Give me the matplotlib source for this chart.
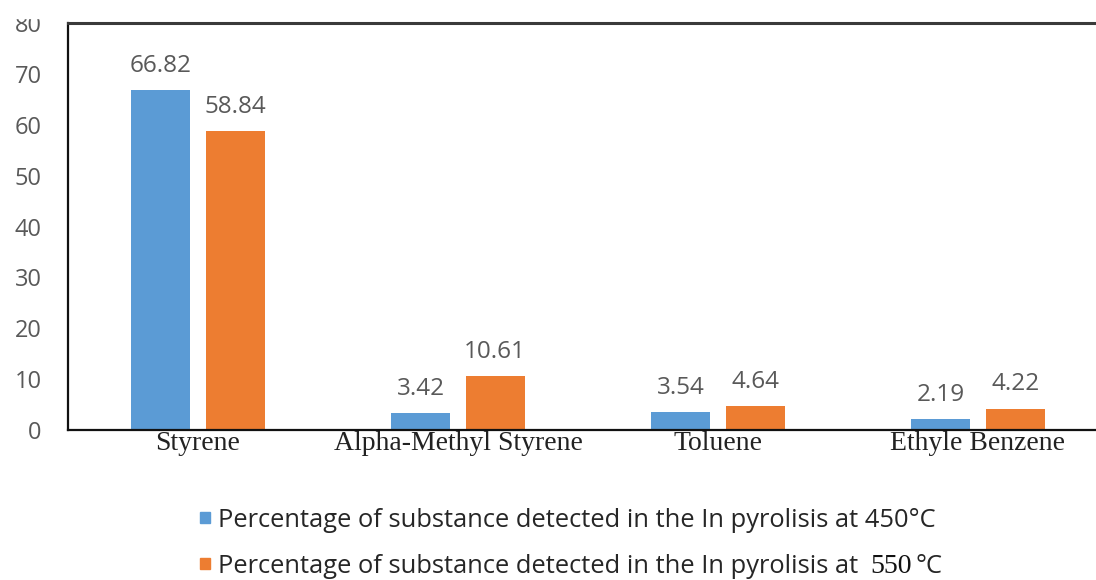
import numpy as np
import matplotlib
matplotlib.use("Agg")
import matplotlib.pyplot as plt
from matplotlib.patches import Rectangle

# --- DATA ---
categories = ["Styrene", "Alpha-Methyl Styrene", "Toluene", "Ethyle Benzene"]
pct_450 = [66.82, 3.42, 3.54, 2.19]
pct_550 = [58.84, 10.61, 4.64, 4.22]
y_ticks = [0, 10, 20, 30, 40, 50, 60, 70, 80]

legend_text = "Percentage of substance detected in the In pyrolisis at"

# --- STYLE ---
BLUE = "#5B9BD5"
ORANGE = "#ED7D31"
GRAY = "#595959"
SANS = ["Open Sans", "DejaVu Sans"]
SERIF = ["Liberation Serif", "DejaVu Serif"]

W, H = 1096, 580
fig = plt.figure(figsize=(W / 100, H / 100), dpi=100)


def px(x, y):
    # pixel coords (from top-left) -> figure fraction
    return x / W, 1 - y / H


# axes run past the right edge of the figure
ax = fig.add_axes([68 / W, 150 / H, 1040 / W, 407 / H])

x = np.arange(len(categories))
bw = 0.226
off = 0.143
b1 = ax.bar(x - off, pct_450, bw, color=BLUE, zorder=2)
b2 = ax.bar(x + off, pct_550, bw, color=ORANGE, zorder=2)

for bars, vals in ((b1, pct_450), (b2, pct_550)):
    for r, v in zip(bars, vals):
        ax.annotate(f"{v:.2f}", (r.get_x() + r.get_width() / 2, v),
                    xytext=(0, 13), textcoords="offset points",
                    ha="center", va="baseline", fontsize=17.5,
                    color=GRAY, family=SANS)

ax.set_xlim(-0.5, 3.5)
ax.set_ylim(0, 80)
ax.set_yticks(y_ticks)
ax.set_yticklabels([str(t) for t in y_ticks], family=SANS, fontsize=17, color=GRAY)
ax.set_xticks(x)
ax.set_xticklabels(categories, family=SERIF, fontsize=20, color="#222222")
ax.tick_params(axis="y", length=0, pad=19)
ax.tick_params(axis="x", length=0, pad=1)

for s in ("left", "bottom"):
    ax.spines[s].set_color("#111111")
    ax.spines[s].set_linewidth(1.6)
ax.spines["top"].set_color("#3a3a3a")
ax.spines["top"].set_linewidth(2.2)
ax.spines["right"].set_visible(False)

# --- LEGEND (drawn by hand: second entry mixes fonts) ---
rows = [(BLUE, 527), (ORANGE, 573)]
for color, base in rows:
    fig.patches.append(Rectangle(px(200, base - 4), 10 / W, 11 / H,
                                 transform=fig.transFigure, color=color))

LEG_FS = 18.4
fig.text(*px(218, 527), legend_text + " 450°C", family=SANS, fontsize=LEG_FS,
         color="#262626", va="baseline")
t2 = fig.text(*px(218, 573), legend_text, family=SANS, fontsize=LEG_FS,
              color="#262626", va="baseline")

fig.canvas.draw()
r = fig.canvas.get_renderer()
x_end = t2.get_window_extent(r).x1 / W
t3 = fig.text(x_end + 12 / W, 1 - 573 / H, "550", family=SERIF, fontsize=20,
              color="#111111", va="baseline")
x_end = t3.get_window_extent(r).x1 / W
fig.text(x_end + 4 / W, 1 - 573 / H, "°C", family=SANS, fontsize=LEG_FS,
         color="#262626", va="baseline")

# white band at the very top
fig.patches.append(Rectangle((0, 1 - 18 / H), 1, 18 / H, transform=fig.transFigure,
                             color="white", zorder=10))

fig.savefig("out.png", dpi=100)
